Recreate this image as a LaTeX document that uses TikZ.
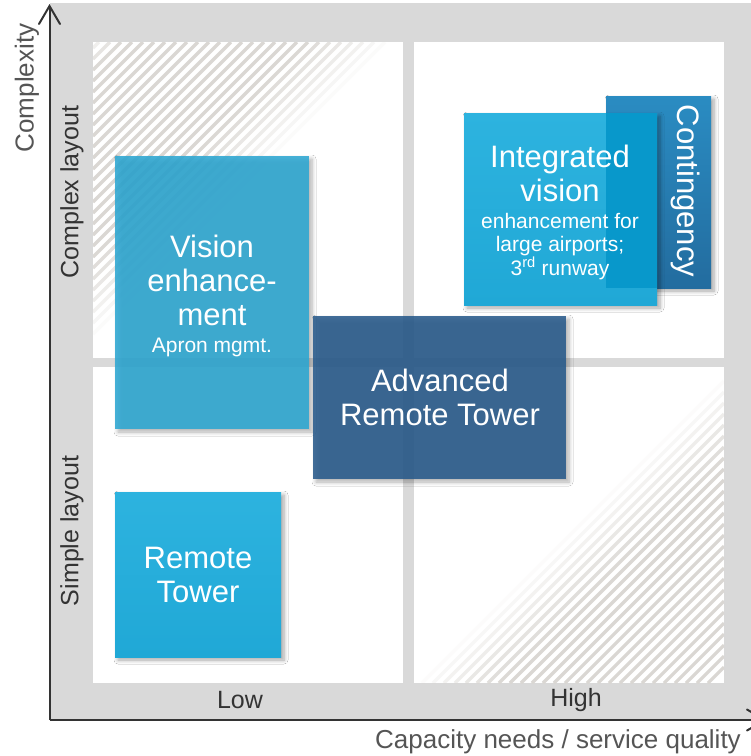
\documentclass[tikz,border=0pt]{standalone}
\usepackage{fontspec}
\setmainfont{Liberation Sans}
\usetikzlibrary{arrows.meta,shadows.blur}
\definecolor{bggray}{HTML}{D9D9D9}
\definecolor{hatchc}{HTML}{DAD7D3}
\definecolor{visblue}{HTML}{2EA8D3}
\definecolor{rtblue}{HTML}{20A8D6}
\definecolor{rttop}{HTML}{2DB3DF}
\definecolor{advblue}{HTML}{295B8C}
\definecolor{conttop}{HTML}{2A8CC2}
\definecolor{contbot}{HTML}{236C9F}
\definecolor{ovblue}{HTML}{0898CB}
\definecolor{axisc}{HTML}{333333}
\definecolor{labc}{HTML}{555555}
\tikzset{
  quad/.style={fill=white,draw=none},
  hatchline/.style={draw=hatchc,line width=3.2pt},
  boxbase/.style={rectangle,draw=none,inner sep=0pt,outer sep=0pt},
  shadowed/.style={blur shadow={shadow xshift=3pt,shadow yshift=-3pt,shadow blur steps=6,shadow opacity=35,shadow blur radius=4pt}},
  bigtxt/.style={text=white,anchor=base,inner sep=0pt,font=\fontsize{31}{34}\selectfont},
  smalltxt/.style={text=white,anchor=base,inner sep=0pt,font=\fontsize{21}{24}\selectfont},
  axislab/.style={text=axisc,inner sep=0pt,font=\fontsize{25}{28}\selectfont},
  axistitle/.style={text=labc,inner sep=0pt,font=\fontsize{26}{29}\selectfont},
  axisline/.style={draw=axisc,line width=2pt,-{Straight Barb[length=18pt,width=21pt,line cap=round]}}
}
\begin{document}
\begin{tikzpicture}[x=1pt,y=-1pt]
\useasboundingbox (0,0) rectangle (751,756);
\clip (0,0) rectangle (751,756);
% background
\fill[bggray] (50,3) rectangle (751,720);
% quadrants
\fill[quad] (93,42) rectangle (403,358);
\fill[quad] (414,42) rectangle (724,358);
\fill[quad] (93,367) rectangle (403,683);
\fill[quad] (414,367) rectangle (724,683);
% hatch top-left
\begin{scope}
\clip (93,42) rectangle (403,358);
\foreach \c in {141,152,...,430}{
  \pgfmathsetmacro{\op}{min(1,(436-\c)/90)*min(1,(\c-125)/40)}
  \draw[hatchline,draw opacity=\op] (\c-42,42) -- (93,\c-93);
}
\end{scope}
% hatch bottom-right
\begin{scope}
\clip (414,367) rectangle (724,683);
\foreach \c in {1105,1116,...,1400}{
  \pgfmathsetmacro{\op}{min(1,(\c-1098)/90)}
  \draw[hatchline,draw opacity=\op] (724,\c-724) -- (\c-683,683);
}
\end{scope}
% boxes
\node[boxbase,shadowed,fill=visblue,fill opacity=0.88,minimum width=194pt,minimum height=273pt] (vis) at (212,292.5) {};
\node[boxbase,shadowed,fill=advblue,fill opacity=0.88,minimum width=253pt,minimum height=163pt] (adv) at (439.5,397.5) {};
\node[boxbase,shadowed,top color=rttop,bottom color=rtblue,minimum width=166pt,minimum height=165pt] (rt) at (198,574.5) {};
\node[boxbase,shadowed,top color=conttop,bottom color=contbot,minimum width=105pt,minimum height=192pt] (cont) at (658.5,192) {};
\node[boxbase,shadowed,top color=rttop,bottom color=rtblue,minimum width=193pt,minimum height=192pt] (intg) at (560.5,209) {};
\node[boxbase,fill=ovblue,minimum width=51pt,minimum height=175pt] (ovl) at (631.5,200.5) {};
% box texts
\node[bigtxt] (v1) at (212,257) {Vision};
\node[bigtxt] (v2) at (212,291) {enhance-};
\node[bigtxt] (v3) at (212,325) {ment};
\node[smalltxt] (v4) at (212,352) {Apron mgmt.};
\node[bigtxt] (a1) at (440,391) {Advanced};
\node[bigtxt] (a2) at (440,425) {Remote Tower};
\node[bigtxt] (r1) at (198,568) {Remote};
\node[bigtxt] (r2) at (198,602) {Tower};
\node[bigtxt] (i1) at (560,167) {Integrated};
\node[bigtxt] (i2) at (560,201) {vision};
\node[smalltxt] (i3) at (560,228) {enhancement for};
\node[smalltxt] (i4) at (560,251) {large airports;};
\node[smalltxt] (i5) at (560,275) {3\textsuperscript{rd} runway};
\node[text=white,inner sep=0pt,font=\fontsize{31}{34}\selectfont,rotate=-90] (ct) at (686,191) {Contingency};
% axes
\coordinate (org) at (49.5,720);
\coordinate (ytip) at (49.5,4);
\coordinate (xtip) at (767,720);
\draw[axisline] (org) -- (ytip);
\draw[axisline] (org) -- (xtip);
% axis labels
\node[axistitle,rotate=90] (cx) at (27,88) {Complexity};
\node[axislab,rotate=90] (cl) at (72,192) {Complex layout};
\node[axislab,rotate=90] (sl) at (72,531) {Simple layout};
\node[axislab] (lo) at (240,700) {Low};
\node[axislab] (hi) at (576,700) {High};
\node[axistitle] (cap) at (558,742) {Capacity needs / service quality};
\end{tikzpicture}
\end{document}
